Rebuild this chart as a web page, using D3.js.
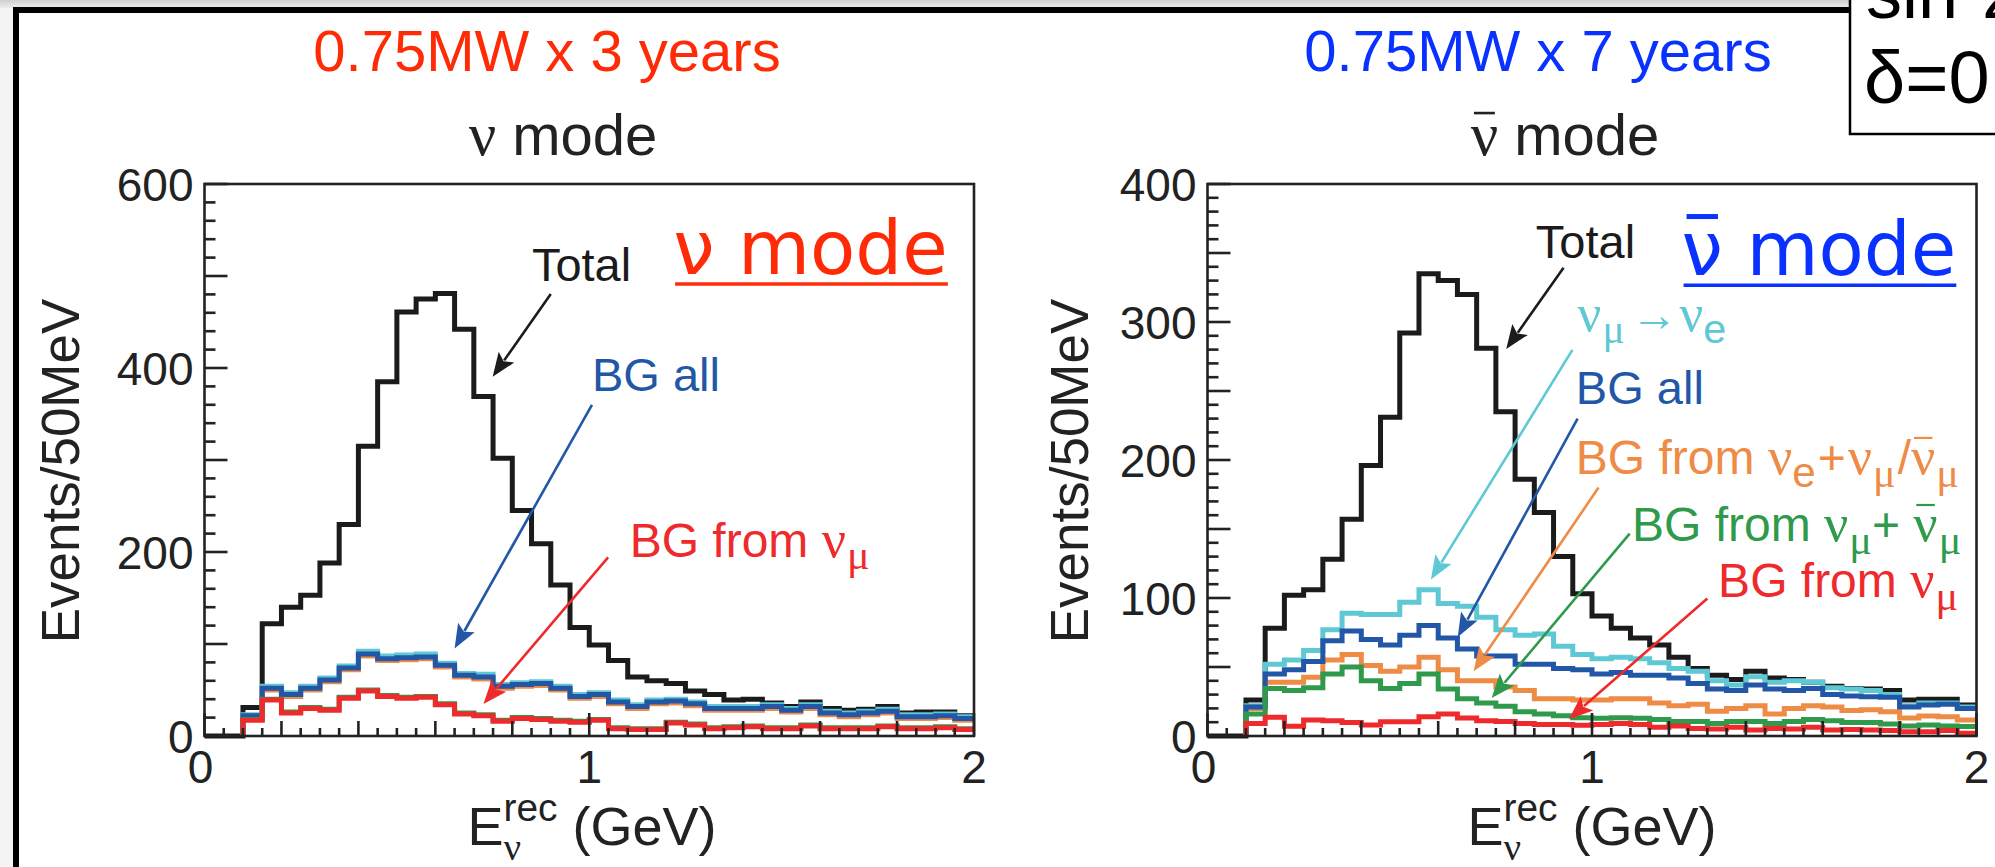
<!DOCTYPE html>
<html><head><meta charset="utf-8">
<script src="https://cdn.jsdelivr.net/npm/d3@7"></script>
<style>html,body{margin:0;padding:0;background:#fff;}svg{display:block}</style>
</head><body>
<svg id="c" width="1995" height="867"></svg>
<script>
// ---------------- DATA ----------------
const energyBins = [0.00,0.05,0.10,0.15,0.20,0.25,0.30,0.35,0.40,0.45,0.50,0.55,0.60,0.65,0.70,0.75,0.80,0.85,0.90,0.95,
                    1.00,1.05,1.10,1.15,1.20,1.25,1.30,1.35,1.40,1.45,1.50,1.55,1.60,1.65,1.70,1.75,1.80,1.85,1.90,1.95];
const binWidth = 0.05;
const xTickLabels = [0, 1, 2];
const yTickLabelsNu = [0, 200, 400, 600];
const yTickLabelsNubar = [0, 100, 200, 300, 400];

// nu mode (0.75MW x 3 years)
const nuTotal     = [0,0,31,122,140,153,188,230,315,385,461,475,481,442,369,302,245,209,164,118,99,82,64,60,57,49,45,39,40,36,32,37,30,28,29,32,25,26,26,22];
const nuNumuToNue = [0,0,23,54,47,54,63,76,92,87,88,89,79,68,67,56,58,59,54,45,47,39,34,39,40,37,32,32,32,34,30,34,27,25,27,29,23,23,24,21];
const nuBgAll     = [0,0,22,52,45,52,61,74,89,84,85,86,77,66,64,54,56,57,52,43,45,37,32,37,38,35,30,30,30,32,28,32,25,23,25,27,21,21,22,19];
const nuBgNueNumu = [0,0,20,50,43,50,59,72,87,82,83,84,75,64,62,52,54,55,50,41,43,35,30,35,36,33,28,28,28,30,26,30,23,21,23,25,19,19,20,17];
const nuBgNumuBar = [0,0,18,40,26,31,29,42,50,44,42,43,35,25,23,17,20,19,17,16,18,9,8,8,15,13,9,10,11,9,9,12,9,9,9,11,9,9,10,8];
const nuBgNumu    = [0,0,17,39,25,30,28,41,49,43,41,42,34,24,22,16,19,18,16,15,17,8,7,7,14,12,8,9,10,8,8,11,8,8,8,10,8,8,9,7];

// anti-nu mode (0.75MW x 7 years)
const nubarTotal     = [0,0,26,78,102,106,128,157,196,231,292,335,330,320,281,235,186,162,130,103,87,78,71,66,57,49,44,41,47,42,41,39,36,34.5,34,33,26,26.6,26.6,22.5];
const nubarNumuToNue = [0,0,22,52,55,62,77,89,88,88,97,106,96,94,86,77,73,74,65,59,56,57,56,53,49,47,40,37,43,39,40,39,35,34,33,30,22,24,24,21];
const nubarBgAll     = [0,0,21,45,48,54,69,76,70,66,73,80,71,63,58,58,52,52,49,48,45,46,44,44,42,38,34,33,37,34,33,34.5,30,29,28.5,28,21,22.5,23,20];
const nubarBgNueNumu = [0,0,20,39,39,42.5,55,59,51,47,50,57,48,40,40,35.5,33,27,27,26,26,27,27,24,22,23,18,20,22,16,20,22,21,18.5,19,17.5,13,14.5,14,11.6];
const nubarBgNumuBar = [0,0,16,34.5,33,35,45,50,40,34.5,38,45,34,27,24,21.6,17.5,16,14.7,13.3,12.8,13.3,12.8,12,10.5,10.5,9,10.5,10.5,9,10.5,12,11,9.7,9.7,8.7,7.2,8,7.2,6.8];
const nubarBgNumu    = [0,0,9,13.5,7,11.6,11,9.7,8,10.4,10.4,14,16,13,11,10.5,9,8.3,8.3,7.8,8.3,9,8.3,6.4,7.2,5.5,5,6.4,4.4,5.5,5,6.3,4.3,4.8,4.3,3.9,3.1,3.1,3.9,2];

// ---------------- STYLE ----------------
const SANS = "'Liberation Sans', Arial, Helvetica, sans-serif";
const SERIF = "'Liberation Serif', 'Times New Roman', serif";
const BIG = "'DejaVu Sans', sans-serif";
const C = {black:'#1b1b1b', cyan:'#5ec8d4', blue:'#2157a6', orange:'#ee8b45', green:'#2f9a4b', red:'#ee2a2c',
           titleRed:'#ff2a06', titleBlue:'#0a32ff'};

const svg = d3.select('#c');

// background frame
const grad = svg.append('defs').append('linearGradient').attr('id','topg').attr('x1',0).attr('y1',0).attr('x2',0).attr('y2',1);
grad.append('stop').attr('offset','0%').attr('stop-color','#cfcfcf');
grad.append('stop').attr('offset','100%').attr('stop-color','#ececec');
svg.append('rect').attr('x',0).attr('y',0).attr('width',1995).attr('height',8).attr('fill','url(#topg)');
svg.append('rect').attr('x',0).attr('y',8).attr('width',13).attr('height',859).attr('fill','#f4f4f4');
svg.append('line').attr('x1',13).attr('x2',1852).attr('y1',10).attr('y2',10).attr('stroke','#000').attr('stroke-width',6);
svg.append('line').attr('x1',16).attr('x2',16).attr('y1',7).attr('y2',867).attr('stroke','#000').attr('stroke-width',6);

// ---------------- helpers ----------------
function richText(g, x, y, parts, o) {
  const t = g.append('text').attr('x', x).attr('y', y).attr('fill', o.color || '#000')
    .attr('font-size', o.size).attr('font-family', o.font || SANS).attr('text-anchor', o.anchor || 'start');
  let shift = 0, idx = 0, prev = null;
  const bars = [];
  parts.forEach(p => {
    const ts = t.append('tspan').text(p.t);
    if (p.serif) ts.attr('font-family', SERIF);
    if (p.font) ts.attr('font-family', p.font);
    ts.attr('font-size', o.size * (p.scale || 1));
    const target = p.sub ? o.size * 0.27 : p.sup ? -o.size * 0.45 : 0;
    const dy = target - shift; shift = target;
    if (dy) ts.attr('dy', dy);
    if (p.back && prev) ts.attr('dx', -prev.node().getComputedTextLength());
    if (p.dx) ts.attr('dx', p.dx);
    if (p.bar) bars.push(idx);
    idx += p.t.length;
    prev = ts;
  });
  bars.forEach(i => {
    const e = t.node().getExtentOfChar(i);
    const barY = e.y + e.height * (o.barPos || 0.28);
    g.append('line').attr('x1', e.x + e.width * 0.12).attr('x2', e.x + e.width * 0.88)
      .attr('y1', barY).attr('y2', barY).attr('stroke', o.color || '#000').attr('stroke-width', o.barW || 2.2);
  });
  return t;
}

function arrow(g, x1, y1, x2, y2, color) {
  const dx = x2 - x1, dy = y2 - y1, L = Math.hypot(dx, dy);
  const ux = dx / L, uy = dy / L, hl = 24, hw = 9.5;
  const bx = x2 - ux * hl, by = y2 - uy * hl;
  g.append('line').attr('x1', x1).attr('y1', y1).attr('x2', bx + ux * 4).attr('y2', by + uy * 4)
    .attr('stroke', color).attr('stroke-width', 2.6);
  g.append('path').attr('d', `M${x2},${y2}L${bx - uy * hw},${by + ux * hw}L${bx + ux*5},${by + uy*5}L${bx + uy * hw},${by - ux * hw}Z`)
    .attr('fill', color);
}

function histPath(vals, x, y, fromZero) {
  let first = fromZero ? 0 : vals.findIndex(v => v > 0);
  const p = d3.path();
  p.moveTo(x(energyBins[first]), y(0));
  for (let i = first; i < vals.length; i++) {
    p.lineTo(x(energyBins[i]), y(vals[i]));
    p.lineTo(x(energyBins[i] + binWidth), y(vals[i]));
  }
  return p.toString();
}

// ---------------- panels ----------------
const panels = [
  { xr: [204.5, 974], yMax: 600, yMajor: 100, yMinor: 20, yLabels: yTickLabelsNu,
    series: [[nuTotal, C.black, true], [nuNumuToNue, C.cyan], [nuBgNueNumu, C.orange], [nuBgAll, C.blue], [nuBgNumuBar, C.green], [nuBgNumu, C.red]],
    header: '0.75MW x 3 years', headerColor: C.titleRed, headerX: 547, modeX: 563, bar: false, yTitleX: 79, xTitleX: 592 },
  { xr: [1207.5, 1976.5], yMax: 400, yMajor: 50, yMinor: 10, yLabels: yTickLabelsNubar,
    series: [[nubarTotal, C.black, true], [nubarNumuToNue, C.cyan], [nubarBgNueNumu, C.orange], [nubarBgAll, C.blue], [nubarBgNumuBar, C.green], [nubarBgNumu, C.red]],
    header: '0.75MW x 7 years', headerColor: C.titleBlue, headerX: 1538, modeX: 1565, bar: true, yTitleX: 1088, xTitleX: 1592 }
];

const yTop = 184, yBot = 736;

panels.forEach((P, pi) => {
  const g = svg.append('g');
  const x = d3.scaleLinear().domain([0, 2]).range(P.xr);
  const y = d3.scaleLinear().domain([0, P.yMax]).range([yBot, yTop]);
  P.x = x; P.y = y; P.g = g;

  // histograms
  P.series.forEach(([vals, col, fromZero]) => {
    g.append('path').attr('d', histPath(vals, x, y, fromZero)).attr('fill', 'none')
      .attr('stroke', col).attr('stroke-width', 5).attr('stroke-linejoin', 'miter');
  });

  // frame
  g.append('rect').attr('x', x(0)).attr('y', y(P.yMax)).attr('width', x(2) - x(0)).attr('height', y(0) - y(P.yMax))
    .attr('fill', 'none').attr('stroke', '#222').attr('stroke-width', 2.6);

  // y ticks
  d3.range(0, P.yMax + 0.001, P.yMinor).forEach(v => {
    const major = Math.abs(v / P.yMajor - Math.round(v / P.yMajor)) < 1e-6;
    g.append('line').attr('x1', x(0)).attr('x2', x(0) + (major ? 23 : 11)).attr('y1', y(v)).attr('y2', y(v))
      .attr('stroke', '#222').attr('stroke-width', 2.6);
  });
  // x ticks
  energyBins.concat([2.0]).forEach(v => {
    const r = Math.round(v * 100);
    let len = 8;
    if (r % 20 === 0) len = 15;
    if (r % 100 === 0) len = 23;
    g.append('line').attr('x1', x(v)).attr('x2', x(v)).attr('y1', y(0)).attr('y2', y(0) - len)
      .attr('stroke', '#222').attr('stroke-width', 2.6);
  });

  // tick labels
  P.yLabels.forEach(v => {
    g.append('text').attr('x', x(0) - 11).attr('y', y(v)).attr('dy', '0.36em').attr('text-anchor', 'end')
      .attr('font-family', SANS).attr('font-size', 46).attr('fill', '#222').text(v);
  });
  xTickLabels.forEach(v => {
    g.append('text').attr('x', x(v) - (v === 0 ? 4 : 0)).attr('y', 783).attr('text-anchor', 'middle')
      .attr('font-family', SANS).attr('font-size', 46).attr('fill', '#222').text(v);
  });

  // axis titles
  const yt = g.append('g').attr('transform', `translate(${P.yTitleX},471) rotate(-90)`);
  richText(yt, 0, 0, [{ t: 'Events/50MeV' }], { size: 53, anchor: 'middle', color: '#222' });
  richText(g, P.xTitleX, 845, [{ t: 'E' }, { t: 'ν', serif: true, sub: true, scale: 0.72 }, { t: 'rec', sup: true, scale: 0.72, back: true }, { t: ' (GeV)' }],
    { size: 54, anchor: 'middle', color: '#222' });

  // headers
  richText(g, P.headerX, 71, [{ t: P.header }], { size: 58, anchor: 'middle', color: P.headerColor });
  richText(g, P.modeX, 155, [{ t: 'ν', serif: true, bar: P.bar, scale: 1.05 }, { t: ' mode' }], { size: 58, anchor: 'middle', color: '#222', barPos: 0.18, barW: 2.6 });
});

// ---------------- annotations ----------------
const NU = { t: 'ν', serif: true, scale: 1.12 };
const SUBMU = { t: 'μ', serif: true, sub: true, scale: 0.88, dx: 1 };
(function () {
  const P = panels[0], g = P.g, x = P.x, y = P.y;
  const fs = 47;
  richText(g, x(0.851), y(494.6), [{ t: 'Total' }], { size: fs, color: C.black });
  arrow(g, x(0.900), y(480.4), x(0.749), y(390.5), C.black);
  richText(g, x(1.007), y(375), [{ t: 'BG all' }], { size: fs, color: C.blue });
  arrow(g, x(1.007), y(359.8), x(0.650), y(95.2), C.blue);
  richText(g, x(1.105), y(195.1), [{ t: 'BG from ' }, NU, SUBMU], { size: 48, color: C.red });
  arrow(g, x(1.049), y(194.2), x(0.725), y(34.9), C.red);
  const big = richText(g, x(1.218), y(502.2), [{ t: 'ν mode' }], { size: 74, font: BIG, color: C.titleRed });
  const bb = big.node().getBBox();
  g.append('line').attr('x1', bb.x + 2).attr('x2', bb.x + bb.width).attr('y1', y(502.2) + 10).attr('y2', y(502.2) + 10)
    .attr('stroke', C.titleRed).attr('stroke-width', 3.5);
})();

(function () {
  const P = panels[1], g = P.g, x = P.x, y = P.y;
  const fs = 47;
  richText(g, x(0.854), y(346.4), [{ t: 'Total' }], { size: fs, color: C.black });
  arrow(g, x(0.926), y(339.4), x(0.777), y(280.4), C.black);
  const big = richText(g, x(1.233), y(333.9), [{ t: 'ν', bar: true }, { t: ' mode' }], { size: 74, font: BIG, color: C.titleBlue, barPos: 0.12, barW: 5 });
  const bb = big.node().getBBox();
  g.append('line').attr('x1', bb.x + 2).attr('x2', bb.x + bb.width).attr('y1', y(333.9) + 10).attr('y2', y(333.9) + 10)
    .attr('stroke', C.titleBlue).attr('stroke-width', 3.5);

  richText(g, x(0.9625), y(293.7), [NU, SUBMU, { t: '→', dx: 6 }, { t: 'ν', serif: true, scale: 1.12, dx: 2 }, { t: 'e', sub: true, scale: 0.88 }], { size: fs, color: C.cyan });
  arrow(g, x(0.949), y(279.8), x(0.581), y(113.4), C.cyan);
  richText(g, x(0.958), y(240.6), [{ t: 'BG all' }], { size: fs, color: C.blue });
  arrow(g, x(0.9625), y(229.9), x(0.651), y(71.7), C.blue);
  richText(g, x(0.958), y(189.9), [{ t: 'BG from ' }, NU, { t: 'e', sub: true, scale: 0.88 }, { t: '+', dx: 2 }, { t: 'ν', serif: true, scale: 1.12, dx: 2 }, SUBMU, { t: '/', dx: 2 }, { t: 'ν', serif: true, scale: 1.12, bar: true }, SUBMU], { size: 48, color: C.orange, barPos: 0.2 });
  arrow(g, x(1.017), y(180), x(0.692), y(46.9), C.orange);
  richText(g, x(1.104), y(141.3), [{ t: 'BG from ' }, NU, SUBMU, { t: '+ ' }, { t: 'ν', serif: true, scale: 1.12, bar: true }, SUBMU], { size: 48, color: C.green, barPos: 0.2 });
  arrow(g, x(1.098), y(146.7), x(0.739), y(27.5), C.green);
  richText(g, x(1.328), y(100.9), [{ t: 'BG from ' }, NU, SUBMU], { size: 48, color: C.red });
  arrow(g, x(1.300), y(99.6), x(0.940), y(12.2), C.red);
})();

// top-right parameter box
svg.append('rect').attr('x', 1850).attr('y', -10).attr('width', 200).attr('height', 144).attr('fill', '#fff')
  .attr('stroke', '#000').attr('stroke-width', 2.5);
richText(svg, 1866, 18, [{ t: 'sin' }, { t: '2', sup: true, scale: 0.6 }, { t: '2θ' }, { t: '13', sub: true, scale: 0.6 }, { t: '=0.1' }], { size: 72, color: '#000' });
richText(svg, 1864, 103, [{ t: 'δ=0' }], { size: 74, color: '#000' });
</script>
</body></html>
